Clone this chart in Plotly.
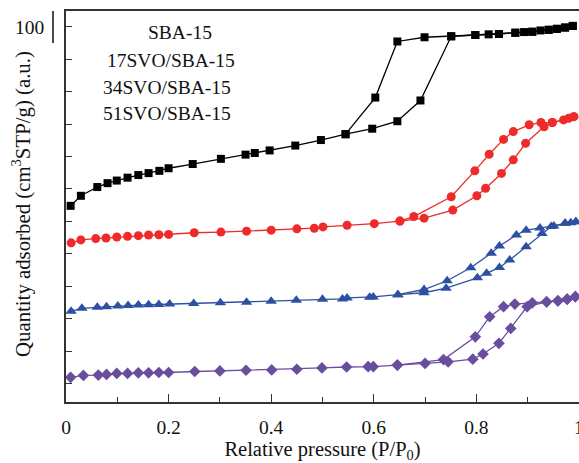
import plotly.graph_objects as go

# ---------------- data ----------------
series_names = ["SBA-15", "17SVO/SBA-15", "34SVO/SBA-15", "51SVO/SBA-15"]

sba_ads_p = [0.009, 0.029, 0.061, 0.081, 0.099, 0.120, 0.141, 0.161, 0.182, 0.200, 0.247, 0.302,
             0.350, 0.368, 0.397, 0.447, 0.497, 0.545, 0.597, 0.646, 0.691, 0.751, 0.798, 0.824,
             0.844, 0.876, 0.893, 0.909, 0.925, 0.941, 0.957, 0.973, 0.988]
sba_ads_v = [44.8, 47.9, 50.6, 51.8, 52.6, 53.5, 54.3, 54.9, 55.6, 56.4, 57.7, 59.3,
             60.6, 61.1, 61.9, 63.4, 65.1, 66.9, 68.6, 70.9, 77.3, 97.1, 97.5, 97.7,
             97.8, 98.2, 98.4, 98.5, 98.9, 99.1, 99.4, 99.8, 100.3]
sba_des_p = [0.988, 0.973, 0.957, 0.941, 0.909, 0.876, 0.844, 0.798, 0.751, 0.699, 0.646, 0.603, 0.545]
sba_des_v = [100.3, 99.8, 99.4, 99.1, 98.5, 98.2, 97.8, 97.5, 97.1, 96.8, 95.5, 78.2, 66.9]

svo17_ads_p = [0.010, 0.029, 0.058, 0.078, 0.099, 0.120, 0.141, 0.161, 0.181, 0.200, 0.250, 0.302,
               0.352, 0.400, 0.450, 0.484, 0.501, 0.548, 0.601, 0.651, 0.698, 0.754, 0.801, 0.818,
               0.849, 0.872, 0.896, 0.932, 0.948, 0.970, 0.990]
svo17_ads_v = [33.4, 34.3, 34.7, 34.9, 35.2, 35.4, 35.6, 35.8, 35.9, 36.0, 36.5, 36.7,
               37.0, 37.3, 37.7, 37.9, 38.3, 38.8, 39.3, 40.1, 41.0, 43.5, 47.9, 50.2,
               54.8, 59.0, 64.1, 69.2, 70.5, 71.3, 72.3]
svo17_des_p = [0.990, 0.980, 0.948, 0.926, 0.903, 0.872, 0.853, 0.825, 0.797, 0.751, 0.678, 0.651]
svo17_des_v = [72.3, 71.8, 70.5, 70.5, 69.8, 67.7, 65.3, 60.7, 55.6, 47.6, 41.5, 40.1]

svo34_ads_p = [0.010, 0.031, 0.061, 0.079, 0.101, 0.121, 0.141, 0.161, 0.181, 0.202, 0.249, 0.301,
               0.352, 0.400, 0.449, 0.500, 0.539, 0.548, 0.592, 0.599, 0.647, 0.698, 0.741, 0.802,
               0.820, 0.845, 0.865, 0.897, 0.928, 0.946, 0.973, 0.984, 0.994]
svo34_ads_v = [12.3, 13.2, 13.5, 13.7, 13.9, 14.1, 14.2, 14.3, 14.4, 14.5, 14.7, 14.9,
               15.1, 15.4, 15.7, 16.0, 16.1, 16.4, 16.6, 16.7, 17.4, 18.0, 19.4, 22.6,
               24.0, 25.8, 28.1, 32.2, 36.3, 38.4, 39.4, 39.6, 39.9]
svo34_des_p = [0.994, 0.973, 0.951, 0.924, 0.897, 0.878, 0.845, 0.829, 0.789, 0.743, 0.698, 0.647]
svo34_des_v = [39.9, 39.4, 38.6, 38.0, 37.3, 35.8, 32.4, 30.2, 25.7, 21.7, 19.0, 17.4]

svo51_ads_p = [0.009, 0.034, 0.063, 0.079, 0.099, 0.120, 0.141, 0.161, 0.181, 0.200, 0.251, 0.300,
               0.351, 0.401, 0.450, 0.499, 0.547, 0.589, 0.599, 0.646, 0.700, 0.745, 0.793, 0.813,
               0.844, 0.867, 0.899, 0.937, 0.959, 0.977, 0.993]
svo51_ads_v = [-8.1, -7.5, -7.4, -7.2, -6.9, -6.9, -6.7, -6.7, -6.6, -6.6, -6.3, -6.1,
               -5.9, -5.8, -5.6, -5.2, -4.9, -4.8, -4.8, -4.3, -3.8, -3.3, -2.5, -0.9,
               2.4, 7.0, 13.7, 15.2, 15.5, 16.0, 16.8]
svo51_des_p = [0.993, 0.977, 0.959, 0.937, 0.909, 0.875, 0.853, 0.826, 0.798, 0.736, 0.646]
svo51_des_v = [16.8, 16.0, 15.5, 15.2, 14.9, 14.5, 13.7, 10.6, 4.4, -2.6, -4.3]

x_tick_vals = [0, 0.2, 0.4, 0.6, 0.8, 1.0]
x_tick_text = ["0", "0.2", "0.4", "0.6", "0.8", "1"]
y_tick_vals = [100]
y_tick_text = ["100"]
y_minor_vals = [90, 80, 70, 60, 50, 40, 30, 20, 10, 0, -10]

x_title = "Relative pressure (P/P<sub>0</sub>)"
y_title = "Quantity adsorbed (cm<sup>3</sup>STP/g) (a.u.)"

# ---------------- styling ----------------
FONT = "Liberation Serif"
colors = ["#000000", "#EE2A2A", "#2E50A3", "#6A4E9E"]
symbols = ["square", "circle", "triangle-up", "diamond"]
sizes = [8, 9, 10, 9]

data = [
    (sba_ads_p, sba_ads_v, sba_des_p, sba_des_v),
    (svo17_ads_p, svo17_ads_v, svo17_des_p, svo17_des_v),
    (svo34_ads_p, svo34_ads_v, svo34_des_p, svo34_des_v),
    (svo51_ads_p, svo51_ads_v, svo51_des_p, svo51_des_v),
]

fig = go.Figure()
for i, (ap, av, dp, dv) in enumerate(data):
    for px_, pv_ in ((ap, av), (dp, dv)):
        fig.add_trace(go.Scatter(
            x=px_, y=pv_, mode="lines+markers", name=series_names[i],
            showlegend=False,
            line=dict(color=colors[i], width=1.3),
            marker=dict(symbol=symbols[i], size=sizes[i], color=colors[i]),
            cliponaxis=False,
        ))

W, H = 579, 463
L, R, T, B = 66, 0, 11, 61
pw, ph = W - L - R, H - T - B

def px2paper(xp, yp):
    return (xp - L) / pw, (H - B - yp) / ph

# legend-like labels
legend_pos = [(180, 32), (170.5, 60), (167, 87), (166.5, 113)]
for name, (lx, ly) in zip(series_names, legend_pos):
    ax_, ay_ = px2paper(lx, ly)
    fig.add_annotation(x=ax_, y=ay_, xref="paper", yref="paper", text=name,
                       showarrow=False, xanchor="center", yanchor="middle",
                       font=dict(family=FONT, size=19.5, color="#111"))

# y title
tx, ty = px2paper(22, 204)
fig.add_annotation(x=tx, y=ty, xref="paper", yref="paper", text=y_title, textangle=-90,
                   showarrow=False, xanchor="center", yanchor="middle",
                   font=dict(family=FONT, size=20.8, color="#111"))

# small vertical bar next to the "100" label
bx0, by0 = px2paper(53, 11)
bx1, by1 = px2paper(53, 43)
fig.add_shape(type="line", xref="paper", yref="paper", x0=bx0, x1=bx1, y0=by0, y1=by1,
              line=dict(color="#111", width=1.5))

fig.update_layout(
    width=W, height=H,
    margin=dict(l=L, r=R, t=T, b=B, pad=0, autoexpand=False),
    plot_bgcolor="white", paper_bgcolor="white",
    font=dict(family=FONT, size=19.5, color="#111"),
    showlegend=False,
)
fig.update_xaxes(
    range=[0, 1.0001], tickvals=x_tick_vals, ticktext=x_tick_text, automargin=False,
    ticks="inside", ticklen=8, tickwidth=1.3, tickcolor="#333",
    minor=dict(dtick=0.1, ticks="inside", ticklen=5, tickwidth=1.3, tickcolor="#333"),
    showline=True, linecolor="#333", linewidth=1.5, mirror=True,
    showgrid=False, zeroline=False, ticklabelstandoff=7, ticklabeloverflow="allow",
    title=dict(text=x_title, standoff=9, font=dict(family=FONT, size=20.5)),
)
fig.update_yaxes(
    range=[-15.7, 104.9], tickvals=y_tick_vals, ticktext=y_tick_text, automargin=False,
    ticks="inside", ticklen=6, tickwidth=1.3, tickcolor="#333",
    minor=dict(tickvals=y_minor_vals, ticks="inside", ticklen=6, tickwidth=1.3, tickcolor="#333",
               showgrid=False),
    showline=True, linecolor="#333", linewidth=1.5,
    showgrid=False, zeroline=False, ticklabelstandoff=16,
)

fig.write_html("out.html", config={"displayModeBar": False},
               post_script="document.body.style.margin='0px';")
